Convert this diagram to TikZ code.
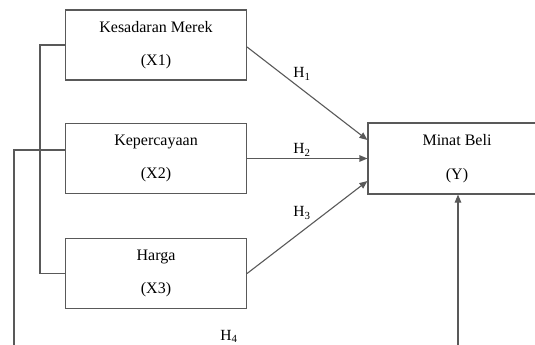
\documentclass[tikz,border=0pt]{standalone}
\usepackage{fontspec}
\setmainfont{Liberation Serif}
\usetikzlibrary{arrows.meta}
\begin{document}
\begin{tikzpicture}[x=1pt,y=-1pt,
  line/.style={draw=black!65,line width=1.1pt},
  var/.style={line,minimum width=181pt,minimum height=70pt,inner sep=0pt,
    align=center,font=\fontsize{16}{33.5}\selectfont},
  hyp/.style={font=\fontsize{15.5}{18}\selectfont,inner sep=0pt},
  arr/.style={line,-{Triangle[length=8pt,width=6.5pt]}}]
\useasboundingbox (0,0) rectangle (535,345);
\clip (0,0) rectangle (535,345);
% independent variables
\node[var] (x1) at (156,45) {Kesadaran Merek\\(X1)};
\node[var] (x2) at (156,158.5) {Kepercayaan\\(X2)};
\node[var] (x3) at (156,273.5) {Harga\\(X3)};
% dependent variable
\node[var,minimum width=178pt,minimum height=71pt] (y) at (457,158.5) {Minat Beli\\(Y)};
% bracket joining X1 and X3
\draw[line] (x1.west) -- ++(-25,0) |- (x3.west);
% simultaneous path (H4)
\coordinate (l0) at (14,345);
\coordinate (r0) at (458,345);
\draw[line] (l0) |- (x2.west |- 0,150);
\draw[arr] (r0) -- (y.south -| r0);
% partial effects
\draw[arr] ([yshift=-2pt]x1.east) -- ([yshift=18.5pt]y.west);
\draw[arr] (x2.east) -- (y.west);
\draw[arr] (x3.east) -- ([yshift=-22.5pt]y.west);
% hypothesis labels
\node[hyp] (h1) at (302,74) {H\textsubscript{1}};
\node[hyp] (h2) at (302,150) {H\textsubscript{2}};
\node[hyp] (h3) at (302,213) {H\textsubscript{3}};
\node[hyp] (h4) at (229,336.5) {H\textsubscript{4}};
\end{tikzpicture}
\end{document}
